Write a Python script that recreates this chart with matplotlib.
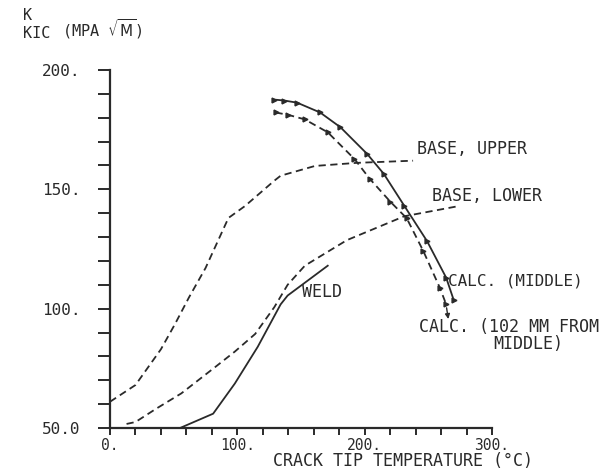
import matplotlib
matplotlib.use("Agg")
import matplotlib.pyplot as plt

# values
base_upper_x = [0, 20, 40, 51, 62, 75, 87, 93, 106, 129, 134, 161, 194, 238]
base_upper_y = [61, 68, 83, 93.5, 104.7, 117, 131, 138, 143, 153.6, 155.7, 159.8, 161.1, 162]

base_lower_x = [13, 20, 36, 56, 83, 98, 114, 129, 139.5, 153, 186, 231, 272]
base_lower_y = [51.7, 52.5, 58, 64.5, 75.7, 82, 89.4, 100.6, 110, 118, 128.7, 138.7, 142.8]

weld_x = [55, 81, 98, 116, 134, 139.5, 171]
weld_y = [50, 56, 68.6, 84, 101.8, 105.5, 118]

calc_mid_x = [129, 137, 147, 165, 181, 202, 215, 231, 249, 264, 270]
calc_mid_y = [187.6, 187.2, 186.3, 182.2, 176, 164.8, 156.5, 143.2, 128.3, 113, 103.5]

calc_102_x = [130, 140, 153, 171, 192, 204, 220, 233, 246, 259, 264]
calc_102_y = [182.2, 181.2, 179.3, 173.9, 162.7, 154.4, 144.9, 137.9, 124.2, 108.8, 101.8]

x_ticks = [0, 100, 200, 300]
x_tick_labels = ["0.", "100.", "200.", "300."]
y_ticks = [50, 100, 150, 200]
y_tick_labels = ["50.0", "100.", "150.", "200."]

ink = "#2a2a2a"
plt.rcParams["font.family"] = ["DejaVu Sans Mono"]
plt.rcParams["mathtext.fontset"] = "dejavusans"

fig = plt.figure(figsize=(6.1, 4.71), dpi=100)
# axes: x 0..300 -> px 110..492, y 50..200 -> px 428..70
ax = fig.add_axes([110 / 610, 43 / 471, 382 / 610, 358 / 471])

dash = (0, (4, 2.5))
ax.plot(base_upper_x, base_upper_y, color=ink, lw=1.3, linestyle=dash)
ax.plot(base_lower_x, base_lower_y, color=ink, lw=1.3, linestyle=dash)
ax.plot(weld_x, weld_y, color=ink, lw=1.3)
ax.plot(calc_mid_x, calc_mid_y, color=ink, lw=1.3, marker=">", ms=3.5)
ax.plot(calc_102_x, calc_102_y, color=ink, lw=1.3, linestyle=dash, marker=">", ms=3.5)

ax.set_xlim(0, 300)
ax.set_ylim(50, 200)
for s in ["top", "right"]:
    ax.spines[s].set_visible(False)
for s in ["left", "bottom"]:
    ax.spines[s].set_color(ink)
    ax.spines[s].set_linewidth(1.6)

ax.set_xticks(range(0, 301, 20), minor=True)
ax.set_yticks(range(50, 201, 10), minor=True)
ax.set_xticks(x_ticks, x_tick_labels)
ax.set_yticks(y_ticks, y_tick_labels)
ax.tick_params(axis="x", which="both", direction="out", length=5, width=1.4, color=ink,
               labelsize=10.5, labelcolor=ink, pad=2)
ax.tick_params(axis="y", which="both", direction="out", length=9, width=1.4, color=ink,
               labelsize=11.5, labelcolor=ink, pad=12)

fs = 12
ax.text(240.8, 166.9, "BASE, UPPER", fontsize=fs, color=ink, va="center", ha="left")
ax.text(252.5, 147, "BASE, LOWER", fontsize=fs, color=ink, va="center", ha="left")
ax.text(151, 106.8, "WELD", fontsize=fs, color=ink, va="center", ha="left")
ax.text(265.8, 111.7, "CALC. (MIDDLE)", fontsize=11.5, color=ink, va="center", ha="left")
ax.text(242.4, 92.3, "CALC. (102 MM FROM", fontsize=fs, color=ink, va="center", ha="left")
ax.text(301, 85.2, "MIDDLE)", fontsize=fs, color=ink, va="center", ha="left")
ax.annotate("", xy=(266, 94.5), xytext=(264, 101.5),
            arrowprops=dict(arrowstyle="-|>", color=ink, lw=1.0, mutation_scale=7))

fig.text(403 / 610, 0.002, "CRACK TIP TEMPERATURE (°C)", fontsize=12, color=ink,
         ha="center", va="bottom")
fig.text(23 / 610, 1 - 16 / 471, "K", fontsize=11, color=ink, ha="left", va="center")
fig.text(23 / 610, 1 - 34 / 471, "KIC", fontsize=11, color=ink, ha="left", va="center")
fig.text(62 / 610, 1 - 29 / 471, r"(MPA $\sqrt{\mathrm{M}}$)", fontsize=11, color=ink,
         ha="left", va="center")

fig.savefig("out.png", dpi=100, facecolor="white")
